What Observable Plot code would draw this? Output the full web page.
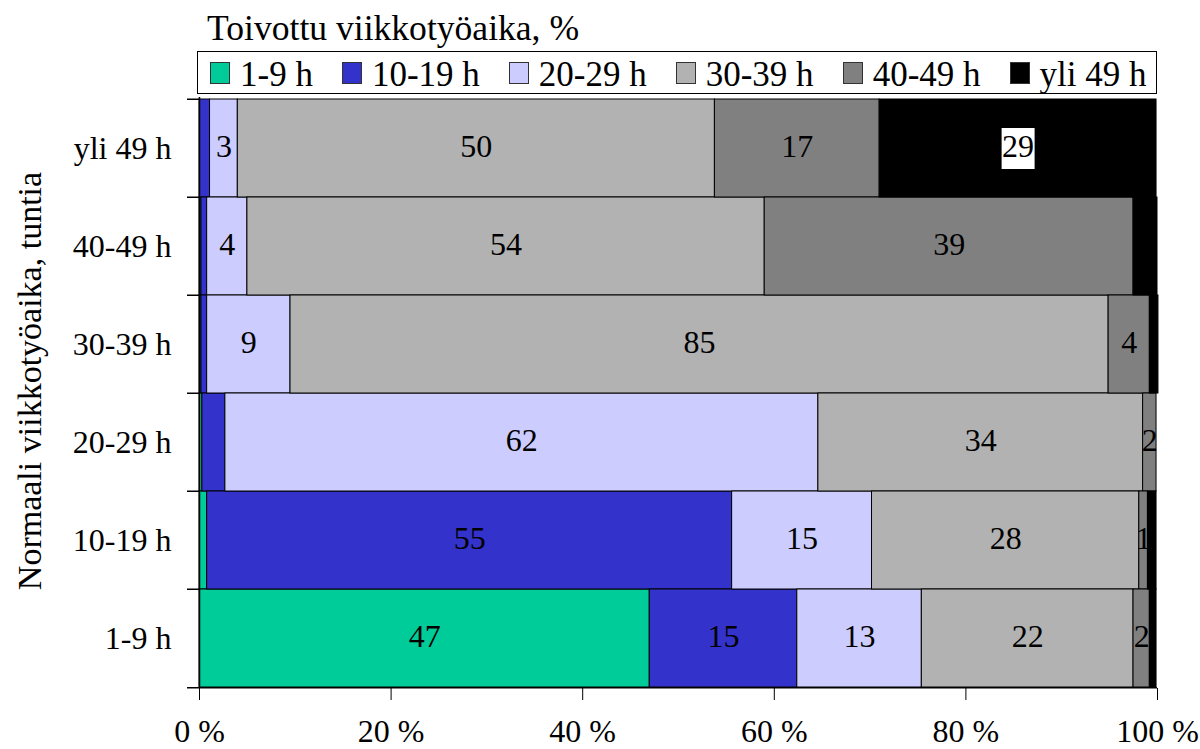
<!DOCTYPE html>
<html><head><meta charset="utf-8">
<script src="https://cdn.jsdelivr.net/npm/d3@7"></script>
<script src="https://cdn.jsdelivr.net/npm/@observablehq/plot@0.6"></script>
<style>
body{margin:0;background:#fff;font-family:"Liberation Serif","Times New Roman",serif;color:#000;}
#wrap{position:relative;width:1200px;height:749px;overflow:hidden;}
#title{position:absolute;left:207px;top:11px;font-size:35.6px;line-height:35px;white-space:nowrap;}
#ytitle{position:absolute;left:30px;top:381px;transform:translate(-50%,-50%) rotate(-90deg);font-size:34px;line-height:34px;white-space:nowrap;z-index:3;}
#legend{position:absolute;left:197px;top:51px;width:960px;height:43px;border:1.5px solid #000;box-sizing:border-box;background:#fff;display:flex;align-items:center;padding:3px 0 0 12px;z-index:2;}
.item{display:flex;align-items:center;margin-right:29px;font-size:35px;line-height:35px;white-space:nowrap;}
.sw{width:20px;height:22px;border:1.5px solid #333;box-sizing:border-box;margin-right:10px;margin-top:-2px;}
#chart{position:absolute;left:0;top:96px;}
</style></head>
<body><div id="wrap"><div id="title"></div><div id="ytitle"></div><div id="legend"></div><div id="chart"></div></div>
<script>
const title = "Toivottu viikkotyöaika, %";
const yTitle = "Normaali viikkotyöaika, tuntia";
const rows = ["yli 49 h","40-49 h","30-39 h","20-29 h","10-19 h","1-9 h"];
const series = ["1-9 h","10-19 h","20-29 h","30-39 h","40-49 h","yli 49 h"];
const colors = ["#00cc99","#3333cc","#ccccff","#b2b2b2","#808080","#000000"];
const xTicks = [0,20,40,60,80,100];

// values per desired-hours series, in row order (top to bottom)
const v_1_9   = [0,    0.2,  0.2,  0.3,  0.8,  47.0];
const v_10_19 = [1.1,  0.6,  0.6,  2.4,  54.8, 15.4];
const v_20_29 = [2.9,  4.2,  8.7,  61.9, 14.6, 13.0];
const v_30_39 = [49.8, 54.0, 85.4, 33.9, 27.9, 22.1];
const v_40_49 = [17.2, 38.5, 4.3,  1.4,  0.9,  1.7];
const v_yli49 = [28.9, 2.5,  0.9,  0.0,  0.9,  0.7];

// data labels shown on the chart
const l_1_9   = [null, null, null, null, null, "47"];
const l_10_19 = [null, null, null, null, "55", "15"];
const l_20_29 = ["3",  "4",  "9",  "62", "15", "13"];
const l_30_39 = ["50", "54", "85", "34", "28", "22"];
const l_40_49 = ["17", "39", "4",  "2",  "1",  "2"];
const l_yli49 = ["29", null, null, null, null, null];

const values = [v_1_9, v_10_19, v_20_29, v_30_39, v_40_49, v_yli49];
const labels = [l_1_9, l_10_19, l_20_29, l_30_39, l_40_49, l_yli49];

const data = [];
series.forEach((s, si) => rows.forEach((r, ri) => data.push({
  row: r, series: s, value: values[si][ri], label: labels[si][ri],
  boxed: si === series.length - 1
})));

document.getElementById("title").textContent = title;
document.getElementById("ytitle").textContent = yTitle;
const lg = document.getElementById("legend");
series.forEach((s, i) => {
  const it = document.createElement("div"); it.className = "item";
  const sw = document.createElement("div"); sw.className = "sw"; sw.style.background = colors[i];
  const tx = document.createElement("span"); tx.textContent = s;
  it.appendChild(sw); it.appendChild(tx); lg.appendChild(it);
});

const H = 653, mt = 1, mb = 61;
const bw = (H - mt - mb) / rows.length;
const boxSymbol = {draw(ctx){ctx.moveTo(-16.5,-20.5);ctx.lineTo(16.5,-20.5);ctx.lineTo(16.5,20.5);ctx.lineTo(-16.5,20.5);ctx.closePath();}};

const chart = Plot.plot({
  width: 1200, height: H,
  marginTop: mt, marginBottom: mb, marginLeft: 199, marginRight: 43,
  style: {fontFamily: "'Liberation Serif','Times New Roman',serif", fontSize: "32px", color: "#000", background: "transparent", overflow: "visible"},
  x: {domain: [0, 100], ticks: xTicks, tickFormat: d => d + " %", tickSize: 12, tickPadding: 19, label: null},
  y: {domain: rows, padding: 0, tickSize: 0, tickPadding: 28, label: null},
  color: {domain: series, range: colors},
  marks: [
    Plot.barX(data, Plot.stackX({x: "value", y: "row", fill: "series", order: series, stroke: "#000", strokeWidth: 1})),
    Plot.dot(data, Plot.stackX({x: "value", y: "row", z: "series", order: series, r: d => (d.boxed && d.label) ? 1 : 0, symbol: boxSymbol, fill: "#fff", stroke: "none"})),
    Plot.text(data, Plot.stackX({x: "value", y: "row", z: "series", order: series, text: "label", fontSize: 32, fill: "#000", dy: -2})),
    Plot.ruleX([0], {stroke: "#000", strokeWidth: 1.5}),
    Plot.ruleY(rows, {y: d => d, x1: -1.25, x2: 0, dy: -bw / 2, stroke: "#000", strokeWidth: 1.5}),
    Plot.ruleY([rows[rows.length - 1]], {y: d => d, x1: -1.25, x2: 100, dy: bw / 2, stroke: "#000", strokeWidth: 1.5})
  ]
});
document.getElementById("chart").appendChild(chart);
</script></body></html>
